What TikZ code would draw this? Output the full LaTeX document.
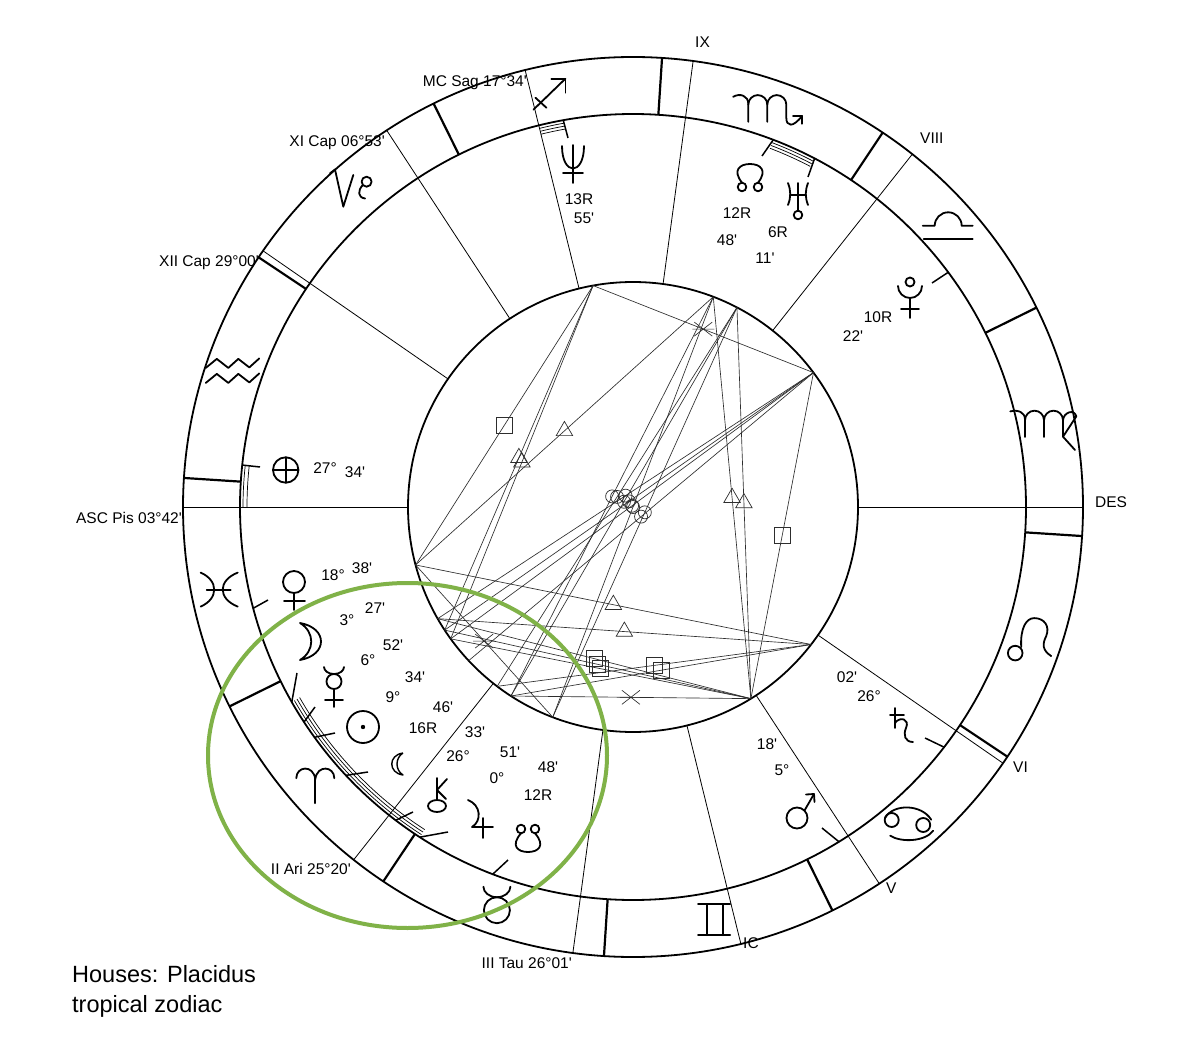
\documentclass[tikz,border=0pt]{standalone}
\usepackage{fontspec}
\setmainfont{Liberation Sans}
\newfontfamily\labfont{Liberation Sans}
\usetikzlibrary{shapes.geometric}
\definecolor{ringgreen}{RGB}{128,178,72}
\definecolor{aspgray}{RGB}{45,45,45}
\newcommand\ccx{633}
\newcommand\ccy{507}
\newcommand\lonoff{153.7}
\tikzset{
  ringline/.style={line width=1.8pt},
  signline/.style={line width=2.2pt},
  cuspline/.style={line width=0.8pt},
  ptick/.style={line width=1.5pt},
  conjarc/.style={line width=0.7pt},
  aspline/.style={line width=0.65pt, draw=aspgray},
  lbl/.style={font=\labfont\fontsize{15.5}{17}\selectfont, inner sep=0pt},
  degtxt/.style={font=\labfont\fontsize{15.5}{17}\selectfont, inner sep=0pt},
  gl/.style={line width=1.8pt, line cap=round, line join=round},
  oppsym/.style={draw=aspgray, line width=0.7pt, circle, minimum size=13pt, inner sep=0pt},
  sqrsym/.style={draw=aspgray, line width=0.7pt, rectangle, minimum size=16pt, inner sep=0pt},
  trisym/.style={draw=aspgray, line width=0.7pt, regular polygon, regular polygon sides=3, minimum size=19pt, inner sep=0pt},
  sxt/.pic={\draw[aspline] (-9,-7)--(9,7) (-9,7)--(9,-7) (-11,0)--(11,0);},
  % ---- zodiac glyphs (relative px, y down) ----
  gAries/.pic={\draw[gl] (-1,-7)--(-1,18);
    \draw[gl] (-20,-7) .. controls (-20,-19) and (-3,-21) .. (-1,-6) .. controls (1,-21) and (18,-19) .. (18,-7);},
  gTaurus/.pic={\draw[gl] (-1,4) circle[radius=13];
    \draw[gl] (-14.5,-19.5) arc[start angle=180, end angle=0, x radius=13.5, y radius=10.5];},
  gGemini/.pic={\draw[gl] (-17.5,-16)--(14.5,-16) (-17.5,15)--(14.5,15) (-9,-16)--(-9,15) (7.5,-16)--(7.5,15);},
  gCancer/.pic={\draw[gl] (-19.5,-3.7) circle[radius=7] (12,1.3) circle[radius=7];
    \draw[gl] (-26,-6) .. controls (-18,-20) and (10,-20) .. (20,-4);
    \draw[gl] (-21,12) .. controls (-10,19) and (14,18) .. (22,7);},
  gLeo/.pic={\draw[gl] (-17,11) circle[radius=7.3];
    \draw[gl] (-11,5) .. controls (-12,-14) and (-6,-24) .. (2,-24) .. controls (12,-24) and (18,-16) .. (14,-6) .. controls (10,2) and (10,8) .. (19,14);},
  gVirgo/.pic={\draw[gl] (-36,-13) .. controls (-28,-15) and (-21.3,-12) .. (-21.3,-5) -- (-21.3,12.6);
    \draw[gl] (-21.3,-4.2) arc[start angle=180, end angle=360, radius=9.5] -- (-2.3,12.6);
    \draw[gl] (-2.3,-4.2) arc[start angle=180, end angle=360, radius=9.5] -- (16.7,12.3);
    \draw[gl] (16.7,-4) .. controls (17,-12) and (28,-16) .. (30,-8) -- (16.7,12.3) -- (28.7,25.6);},
  gLibra/.pic={\draw[gl] (-27,-3) -- (-15,-3) arc[start angle=180, end angle=360, radius=13.5] -- (23,-3);
    \draw[gl] (-26,10.5) -- (23,10.5);},
  gScorpio/.pic={\draw[gl] (-35,-11) .. controls (-28,-15) and (-19.8,-12) .. (-19.8,-4) -- (-19.8,14);
    \draw[gl] (-19.8,-3.2) arc[start angle=180, end angle=360, radius=9.5] -- (-0.8,14);
    \draw[gl] (-0.8,-3.2) arc[start angle=180, end angle=360, radius=9.5] -- (18.2,10) .. controls (18.2,19) and (25,20) .. (34,8);
    \draw[gl] (25,8) -- (34,8) -- (34,16);},
  gSag/.pic={\draw[gl] (-17,16) -- (15,-15); \draw[gl] (1,-15) -- (15,-15) -- (15,-1);
    \draw[gl] (-15,4) -- (-4,14);},
  gCap/.pic={\draw[gl] (-24.6,-17.2) -- (-19.6,-21) -- (-11.3,16.2) -- (-1.3,-15.5);
    \draw[gl] (12,-8.8) circle[radius=5];
    \draw[gl] (8.2,-5.5) .. controls (3,0) and (3,7) .. (10.5,8);},
  gAqu/.pic={\draw[gl] (-28,-4) -- (-17,-13) -- (-5.5,-4) -- (4.5,-13) -- (15.5,-4.5) -- (25.5,-13.5);
    \draw[gl] (-28,11) -- (-17,2) -- (-5.5,11) -- (4.5,2) -- (15.5,10.5) -- (25.5,1.5);},
  gPis/.pic={\draw[gl] (-19,-17) .. controls (-1,-9) and (-1,9) .. (-19,17);
    \draw[gl] (18,-17) .. controls (-2,-9) and (-2,9) .. (18,17);
    \draw[gl] (-13,0) -- (11,0);},
  % ---- planet glyphs ----
  gNeptune/.pic={\draw[gl] (0,-19) -- (0,19) (-10,9) -- (10,9);
    \draw[gl] (-11,-18) .. controls (-11,12) and (11,12) .. (11,-18);},
  gNode/.pic={\draw[gl] (-8,9) circle[radius=4.3] (8,9) circle[radius=4.3];
    \draw[gl] (-8,4.7) .. controls (-18,-8) and (-10,-14) .. (0,-14) .. controls (10,-14) and (18,-8) .. (8,4.7);},
  gSNode/.pic={\draw[gl] (-7,-9) circle[radius=4.3] (7,-9) circle[radius=4.3];
    \draw[gl] (-7,-4.7) .. controls (-18,8) and (-10,14) .. (0,14) .. controls (10,14) and (18,8) .. (7,-4.7);},
  gUranus/.pic={\draw[gl] (-10,-17) .. controls (-7,-9) and (-7,-3) .. (-10,5);
    \draw[gl] (10,-17) .. controls (7,-9) and (7,-3) .. (10,5);
    \draw[gl] (-8,-5) -- (8,-5) (0,-17) -- (0,10.5); \draw[gl] (0,15) circle[radius=4.3];},
  gPluto/.pic={\draw[gl] (0,-15) circle[radius=4.5];
    \draw[gl] (-12,-11) arc[start angle=180, end angle=0, radius=12];
    \draw[gl] (0,1) -- (0,21) (-9,12) -- (9,12);},
  gSaturn/.pic={\draw[gl] (-7,-17) -- (-7,3) (-12,-10) -- (2,-10);
    \draw[gl] (-7,-2) .. controls (-2,-9) and (8,-6) .. (4,3) .. controls (1,10) and (3,17) .. (11,17);},
  gMars/.pic={\draw[gl] (-3,8) circle[radius=10.5];
    \draw[gl] (4.5,0.5) -- (14,-16); \draw[gl] (6,-15.5) -- (14,-16) -- (14.5,-8);},
  gJupiter/.pic={\draw[gl] (-10,-17) .. controls (3,-12) and (4,4) .. (-6,10) -- (15,10);
    \draw[gl] (5,1) -- (5,21);},
  gChiron/.pic={\draw[gl] (0,-17) -- (0,4); \draw[gl] (10,-16) -- (0,-5) -- (9,4);
    \draw[gl] (0,11) ellipse[x radius=9, y radius=6];},
  gLilith/.pic={\draw[line width=1.4pt, line join=round] (6,-11) .. controls (-9,-9) and (-9,9) .. (6,11) .. controls (-2,6) and (-2,-6) .. (6,-11);},
  gSun/.pic={\draw[gl] (0,0) circle[radius=16]; \fill (0,0) circle[radius=2.2];},
  gMercury/.pic={\draw[gl] (-9,-20) arc[start angle=180, end angle=0, x radius=10, y radius=7];
    \draw[gl] (1,-5.5) circle[radius=7.5]; \draw[gl] (1,2) -- (1,20) (-8,13) -- (10,13);},
  gMoon/.pic={\draw[gl] (-10,-19) .. controls (18,-14) and (18,13) .. (-10,18) .. controls (5,9) and (5,-10) .. (-10,-19);},
  gVenus/.pic={\draw[gl] (1,-8) circle[radius=11]; \draw[gl] (1,3) -- (1,20) (-9,11) -- (12,11);},
  gEarth/.pic={\draw[gl] (0,0) circle[radius=12.7]; \draw[gl] (-12.7,0) -- (12.7,0) (0,-12.7) -- (0,12.7);},
}
\begin{document}
\begin{tikzpicture}[x=1pt,y=-1pt]
\fill[white] (0,0) rectangle (1200,1043);
\useasboundingbox (0,0) rectangle (1200,1043);

% ---------- rings ----------
\coordinate (C) at (\ccx,\ccy);
\draw[ringline] (C) circle[radius=450];
\draw[ringline] (C) circle[radius=393];
\draw[ringline] (C) circle[radius=225];

% ---------- sign boundaries ----------
\foreach \k in {0,...,11}{
  \coordinate (si\k) at ({\ccx+393*cos(30*\k-\lonoff)},{\ccy-393*sin(30*\k-\lonoff)});
  \coordinate (so\k) at ({\ccx+450*cos(30*\k-\lonoff)},{\ccy-450*sin(30*\k-\lonoff)});
  \draw[signline] (si\k) -- (so\k);
}

% ---------- house cusps ----------
\foreach \k/\pl in {1/333.7,2/25.33,3/56.02,4/77.57,5/96.88,6/119.0,7/153.7,8/205.33,9/236.02,10/257.57,11/276.88,12/299.0}{
  \coordinate (ci\k) at ({\ccx+225*cos(\pl-\lonoff)},{\ccy-225*sin(\pl-\lonoff)});
  \coordinate (co\k) at ({\ccx+450*cos(\pl-\lonoff)},{\ccy-450*sin(\pl-\lonoff)});
  \draw[cuspline] (ci\k) -- (co\k);
}

% ---------- zodiac glyphs ----------
\pic at (316.3,785.2) {gAries};
\pic at (497.9,906.2) {gTaurus};
\pic at (715.6,920.3) {gGemini};
\pic at (911.2,823.7) {gCancer};
\pic at (1032.2,642.1) {gLeo};
\pic at (1046.3,424.4) {gVirgo};
\pic at (949.7,228.8) {gLibra};
\pic at (768.1,107.8) {gScorpio};
\pic at (550.4,93.7) {gSag};
\pic at (354.6,190.5) {gCap};
\pic at (233.8,371.9) {gAqu};
\pic at (219.7,589.6) {gPis};

% ---------- cusp labels ----------
\node[lbl, anchor=base east] (lMC) at (527,87) {MC Sag 17°34'};
\node[lbl, anchor=base east] (lXI) at (385,147) {XI Cap 06°53'};
\node[lbl, anchor=base east] (lXII) at (259,267) {XII Cap 29°00'};
\node[lbl, anchor=base east] (lASC) at (182,523) {ASC Pis 03°42'};
\node[lbl, anchor=base east] (lII) at (351,874) {II Ari 25°20'};
\node[lbl, anchor=base east] (lIII) at (572,968) {III Tau 26°01'};
\node[lbl, anchor=base west] (lIC) at (743,948) {IC};
\node[lbl, anchor=base west] (lV) at (886,893) {V};
\node[lbl, anchor=base west] (lVI) at (1013,772) {VI};
\node[lbl, anchor=base west] (lDES) at (1095,507) {DES};
\node[lbl, anchor=base west] (lVIII) at (920,144) {VIII};
\node[lbl, anchor=base west] (lIX) at (695,48) {IX};

% ---------- conjunction arcs ----------
\foreach \r in {390,387,384}{
  \draw[conjarc] ({\ccx+\r*cos(100.2)},{\ccy-\r*sin(100.2)}) arc[start angle=-100.2, end angle=-103.87, radius=\r];
  \draw[conjarc] ({\ccx+\r*cos(62.5)},{\ccy-\r*sin(62.5)}) arc[start angle=-62.5, end angle=-69.1, radius=\r];
  \draw[conjarc] ({\ccx+\r*cos(-150.25)},{\ccy-\r*sin(-150.25)}) arc[start angle=150.25, end angle=122.85, radius=\r];
}
\foreach \r in {390,386}{
  \draw[conjarc] ({\ccx+\r*cos(173.87)},{\ccy-\r*sin(173.87)}) arc[start angle=-173.87, end angle=-180, radius=\r];
}

% ---------- planet ticks ----------
\foreach \pn/\pl/\ex/\ey in {Sun/9.57/335/733, Moon/3.45/297/673, Mercury/6.87/315/707, Venus/348.63/268/600, Mars/95.3/822/828, Jupiter/30.85/448/832, Saturn/116.03/925/738, Uranus/216.18/808/177, Neptune/253.92/568/138, Pluto/190.37/932/283, Node/222.8/762/156, SNode/42.8/508/860, Chiron/26.55/413/812, Lilith/16.77/368/772, Fortune/327.57/260/467}{
  \coordinate (T\pn) at ({\ccx+393*cos(\pl-\lonoff)},{\ccy-393*sin(\pl-\lonoff)});
  \coordinate (E\pn) at (\ex,\ey);
  \draw[ptick] (T\pn) -- (E\pn);
}

% ---------- planet glyphs ----------
\pic at (573,164) {gNeptune};
\pic at (750,178) {gNode};
\pic at (798,200) {gUranus};
\pic at (910,297) {gPluto};
\pic at (902,725) {gSaturn};
\pic at (800,810) {gMars};
\pic at (528,838) {gSNode};
\pic at (478,817) {gJupiter};
\pic at (437,795) {gChiron};
\pic at (397,764) {gLilith};
\pic at (363,727) {gSun};
\pic at (333,687) {gMercury};
\pic at (310,642) {gMoon};
\pic at (293,590) {gVenus};
\pic at (285.7,470) {gEarth};

% ---------- degree texts ----------
\node[degtxt] (d1) at (579,199) {13R};
\node[degtxt] (d2) at (584,218) {55'};
\node[degtxt] (d3) at (737,213) {12R};
\node[degtxt] (d4) at (727,240) {48'};
\node[degtxt] (d5) at (778,232) {6R};
\node[degtxt] (d6) at (765,258) {11'};
\node[degtxt] (d7) at (878,317) {10R};
\node[degtxt] (d8) at (853,336) {22'};
\node[degtxt] (d9) at (325,468) {27°};
\node[degtxt] (d10) at (355,472) {34'};
\node[degtxt] (d11) at (333,575) {18°};
\node[degtxt] (d12) at (362,568) {38'};
\node[degtxt] (d13) at (347,620) {3°};
\node[degtxt] (d14) at (375,608) {27'};
\node[degtxt] (d15) at (368,660) {6°};
\node[degtxt] (d16) at (393,645) {52'};
\node[degtxt] (d17) at (393,697) {9°};
\node[degtxt] (d18) at (415,677) {34'};
\node[degtxt] (d19) at (423,728) {16R};
\node[degtxt] (d20) at (443,707) {46'};
\node[degtxt] (d21) at (458,756) {26°};
\node[degtxt] (d22) at (475,732) {33'};
\node[degtxt] (d23) at (497,778) {0°};
\node[degtxt] (d24) at (510,752) {51'};
\node[degtxt] (d25) at (538,795) {12R};
\node[degtxt] (d26) at (548,767) {48'};
\node[degtxt] (d27) at (847,677) {02'};
\node[degtxt] (d28) at (869,696) {26°};
\node[degtxt] (d29) at (767,744) {18'};
\node[degtxt] (d30) at (782,770) {5°};

% ---------- aspect anchor points ----------
\foreach \pn/\pl in {Sun/9.57,Moon/3.45,Mercury/6.87,Venus/348.63,Mars/95.3,Jupiter/30.85,Saturn/116.03,Uranus/216.18,Neptune/253.92,Pluto/190.37,Node/222.8,SNode/42.8,Chiron/26.55,Lilith/16.77}{
  \coordinate (A\pn) at ({\ccx+225*cos(\pl-\lonoff)},{\ccy-225*sin(\pl-\lonoff)});
}
% squares
\foreach \a/\b in {Venus/Neptune,Saturn/Chiron,Saturn/Jupiter,Mars/Sun,Mars/Mercury,Mars/Moon,Pluto/Mars}{
  \draw[aspline] (A\a) -- (A\b) node[midway, sqrsym] (sq\a\b) {};
}
% trines
\foreach \a/\b in {Venus/Node,Neptune/Sun,Neptune/Mercury,Saturn/Venus,Saturn/Moon,Mars/Node,Mars/Uranus}{
  \draw[aspline] (A\a) -- (A\b) node[midway, trisym] (tr\a\b) {};
}
% oppositions
\foreach \a/\b in {Pluto/Sun,Pluto/Mercury,Pluto/Moon,Uranus/Jupiter,Uranus/Chiron,Node/SNode,Node/Jupiter,Uranus/SNode,Pluto/Lilith}{
  \draw[aspline] (A\a) -- (A\b) node[midway, oppsym] (op\a\b) {};
}
% sextiles
\foreach \a/\b in {Neptune/Pluto,Venus/SNode,Mars/Jupiter}{
  \draw[aspline] (A\a) -- (A\b) coordinate[midway] (sx\a\b);
  \pic at (sx\a\b) {sxt};
}

% ---------- highlight ----------
\draw[ringgreen, line width=4pt] (407.5,755.5) ellipse[x radius=199.5, y radius=172.5];

% ---------- footer ----------
\node[font=\labfont\fontsize{23.5}{30}\selectfont, anchor=base west, inner sep=0pt] (foot1) at (72,982) {Houses: Placidus};
\node[font=\labfont\fontsize{23.5}{30}\selectfont, anchor=base west, inner sep=0pt] (foot2) at (72,1012) {tropical zodiac};
\end{tikzpicture}
\end{document}
